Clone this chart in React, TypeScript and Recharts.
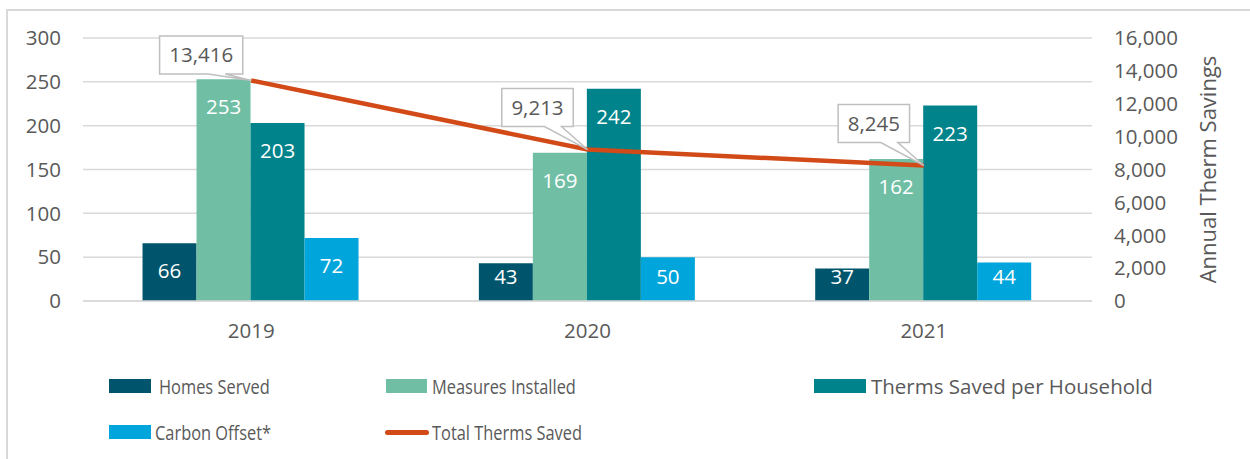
import React from "react";
import {
  Bar, CartesianGrid, ComposedChart, LabelList, Legend, Line, XAxis, YAxis,
} from "recharts";

const YEARS = ["2019", "2020", "2021"];
const HOMES_SERVED = [66, 43, 37];
const MEASURES_INSTALLED = [253, 169, 162];
const THERMS_PER_HOUSEHOLD = [203, 242, 223];
const CARBON_OFFSET = [72, 50, 44];
const TOTAL_THERMS = [13416, 9213, 8245];

const LEFT_TICKS = [0, 50, 100, 150, 200, 250, 300];
const RIGHT_TICKS = [0, 2000, 4000, 6000, 8000, 10000, 12000, 14000, 16000];

const rows = YEARS.map((year, i) => ({
  year,
  homes: HOMES_SERVED[i],
  measures: MEASURES_INSTALLED[i],
  perHousehold: THERMS_PER_HOUSEHOLD[i],
  carbon: CARBON_OFFSET[i],
  total: TOTAL_THERMS[i],
}));

const FONT = "'Open Sans', 'Noto Sans', sans-serif";
const TEXT = "#595959";
const GRID = "#d9d9d9";

const BAR_SERIES = [
  { key: "homes", name: "Homes Served", color: "#00546b" },
  { key: "measures", name: "Measures Installed", color: "#70bfa5" },
  { key: "perHousehold", name: "Therms Saved per Household", color: "#00838a" },
  { key: "carbon", name: "Carbon Offset*", color: "#00a6db" },
];
const LINE_NAME = "Total Therms Saved";
const LINE_COLOR = "#d24a17";
const LEGEND_ORDER = [...BAR_SERIES.map((s) => s.name), LINE_NAME];

// где стоят элементы легенды (как в исходной картинке, колонки неровные,
// левые две колонки в оригинале ужаты по ширине)
const LEGEND_SLOTS = [
  { x: 109, y: 379, w: 42, tx: 159, sx: 0.8 },
  { x: 386, y: 379, w: 41, tx: 432, sx: 0.8 },
  { x: 814, y: 379, w: 52, tx: 871, sx: 1 },
  { x: 109, y: 425, w: 42, tx: 155, sx: 0.8 },
  { x: 385, y: 425, w: 44, tx: 432, sx: 0.8 },
];

const fmt = (v: number) => v.toLocaleString("en-US");

function BarValue(props: any) {
  const { x, y, width, height, value } = props;
  const cy = Math.min(y + 28, y + height - 24);
  return (
    <text x={x + width / 2} y={cy} dy="0.35em" textAnchor="middle" fill="#fff"
      fontSize={20.5} fontFamily={FONT}>
      {value}
    </text>
  );
}

function CalloutLabel(props: any) {
  const { x, y, value } = props;
  const label = fmt(Number(value));
  const textW = [...label].reduce((s, c) => s + (c === "," ? 0.27 : 0.572), 0) * 20.5;
  const w = textW + 19;
  const h = 38;
  const cx = x - 50;
  const cy = Math.max(y - 42, 36 + h / 2);
  const l = cx - w / 2, r = cx + w / 2, t = cy - h / 2, b = cy + h / 2;
  const path = `M${l},${t}H${r}V${b}H${cx + 24}L${x},${y}L${cx + 7},${b}H${l}Z`;
  return (
    <g>
      <path d={path} fill="#fff" stroke="#bfbfbf" strokeWidth={1.5} />
      <text x={cx} y={cy} dy="0.36em" textAnchor="middle" fill={TEXT}
        fontSize={20.5} fontFamily={FONT}>
        {label}
      </text>
    </g>
  );
}

function LegendBox(props: any) {
  const items = props.payload || [];
  return (
    <div style={{ position: "relative", width: 1250, height: 459 }}>
      {items.map((it: any) => {
        const s = LEGEND_SLOTS[LEGEND_ORDER.indexOf(it.value)];
        if (!s) return null;
        const isLine = it.value === LINE_NAME;
        return (
          <React.Fragment key={it.value}>
            <div style={{
              position: "absolute",
              left: s.x,
              top: isLine ? s.y + 5 : s.y,
              width: s.w,
              height: isLine ? 5 : 14,
              borderRadius: isLine ? 3 : 0,
              background: it.color,
            }} />
            <div style={{
              position: "absolute",
              left: s.tx,
              top: s.y + 7 - 15,
              height: 30,
              lineHeight: "30px",
              fontFamily: FONT,
              fontSize: 20.5,
              color: TEXT,
              whiteSpace: "nowrap",
              transform: `scaleX(${s.sx})`,
              transformOrigin: "left center",
            }}>
              {it.value}
            </div>
          </React.Fragment>
        );
      })}
    </div>
  );
}

function RightTitle(props: any) {
  const vb = props.viewBox || { x: 1092, y: 38, width: 100, height: 263 };
  const x = vb.x + 116;
  const y = vb.y + vb.height / 2;
  return (
    <text x={x} y={y} transform={`rotate(-90, ${x}, ${y})`} textAnchor="middle"
      dy="0.36em" fill={TEXT} fontSize={22} fontFamily={FONT}>
      Annual Therm Savings
    </text>
  );
}

export default function App() {
  const tick = { fill: TEXT, fontSize: 20.5, fontFamily: FONT };
  return (
    <div style={{ position: "absolute", left: 0, top: 0, width: 1250, height: 459, background: "#fff" }}>
      <div style={{
        position: "absolute", left: 6, top: 9, width: 1260, height: 470,
        borderLeft: `2px solid ${GRID}`, borderTop: `2px solid ${GRID}`,
      }} />
      <div style={{ position: "absolute", left: 0, top: 0 }}>
        <ComposedChart
          width={1250}
          height={459}
          data={rows}
          margin={{ top: 38, right: 58, bottom: 118, left: 23 }}
          barCategoryGap="17.7%"
          barGap={0}
        >
          <CartesianGrid stroke={GRID} strokeWidth={1.5} vertical={false} yAxisId="left" />
          <XAxis dataKey="year" height={40} tickLine={false} axisLine={{ stroke: GRID, strokeWidth: 1.5 }}
            tickMargin={16} tick={tick} />
          <YAxis yAxisId="left" width={60} domain={[0, 300]} ticks={LEFT_TICKS} interval={0}
            tickLine={false} axisLine={false} tickMargin={16} tick={tick} />
          <YAxis yAxisId="right" orientation="right" width={100} domain={[0, 16000]} ticks={RIGHT_TICKS}
            interval={0} tickLine={false} axisLine={false} tickMargin={16} tick={{ ...tick, textAnchor: "start" }}
            tickFormatter={fmt} label={<RightTitle />} />
          {BAR_SERIES.map((s) => (
            <Bar key={s.key} yAxisId="left" dataKey={s.key} name={s.name} fill={s.color}
              isAnimationActive={false}>
              <LabelList dataKey={s.key} content={<BarValue />} />
            </Bar>
          ))}
          <Line yAxisId="right" dataKey="total" name={LINE_NAME} stroke={LINE_COLOR}
            strokeWidth={4.5} dot={false} activeDot={false} isAnimationActive={false} legendType="line">
            <LabelList dataKey="total" content={<CalloutLabel />} />
          </Line>
          <Legend layout="horizontal" verticalAlign="middle" align="center" content={<LegendBox />}
            wrapperStyle={{ top: 0, left: 0, width: 1250, height: 459, pointerEvents: "none" }} />
        </ComposedChart>
      </div>
    </div>
  );
}
